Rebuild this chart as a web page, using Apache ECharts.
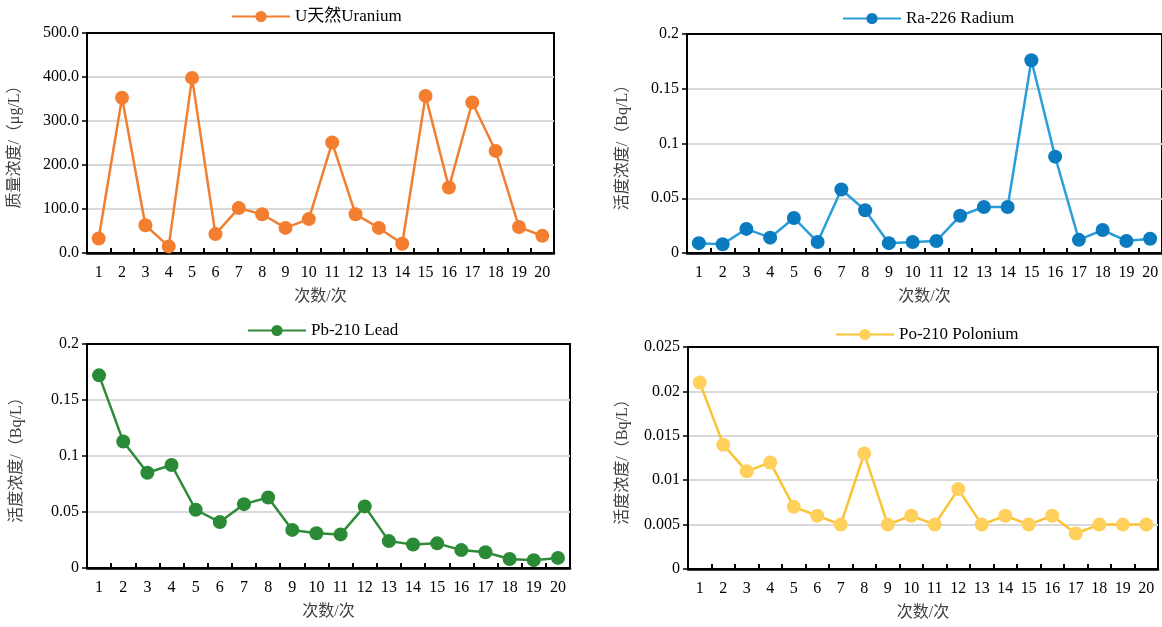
<!DOCTYPE html>
<html>
<head>
<meta charset="utf-8">
<script src="https://cdn.jsdelivr.net/npm/echarts@6/dist/echarts.min.js"></script>
<style>html,body{margin:0;padding:0;background:#fff;}#c{width:1162px;height:627px;}</style>
</head>
<body>
<div id="c"></div>
<script>
const categories = ['1','2','3','4','5','6','7','8','9','10','11','12','13','14','15','16','17','18','19','20'];
const uranium = [33, 353, 63, 15, 398, 43, 102, 88, 57, 77, 251, 88, 57, 21, 357, 149, 342, 232, 59, 39];
const radium = [0.009, 0.008, 0.022, 0.014, 0.032, 0.010, 0.058, 0.039, 0.009, 0.010, 0.011, 0.034, 0.042, 0.042, 0.176, 0.088, 0.012, 0.021, 0.011, 0.013];
const lead = [0.172, 0.113, 0.085, 0.092, 0.052, 0.041, 0.057, 0.063, 0.034, 0.031, 0.030, 0.055, 0.024, 0.021, 0.022, 0.016, 0.014, 0.008, 0.007, 0.009];
const polonium = [0.021, 0.014, 0.011, 0.012, 0.007, 0.006, 0.005, 0.013, 0.005, 0.006, 0.005, 0.009, 0.005, 0.006, 0.005, 0.006, 0.004, 0.005, 0.005, 0.005];
const seriesNames = ['U天然Uranium', 'Ra-226 Radium', 'Pb-210 Lead', 'Po-210 Polonium'];
const yNames = ['质量浓度/（μg/L）', '活度浓度/（Bq/L）', '活度浓度/（Bq/L）', '活度浓度/（Bq/L）'];
const yMax = [500, 0.2, 0.2, 0.025];
const yStep = [100, 0.05, 0.05, 0.005];
const xName = '次数/次';

const FONT = '"Liberation Serif", "Times New Roman", "Noto Sans CJK SC", serif';
const grids = [
  {left: 87, top: 33, width: 467, height: 220},
  {left: 687, top: 34, width: 480, height: 219},
  {left: 87, top: 344, width: 483, height: 224},
  {left: 688, top: 347, width: 470, height: 222}
];
const legendPos = [
  {left: 231, top: 8},
  {left: 842, top: 10},
  {left: 247, top: 322},
  {left: 835, top: 326}
];
const lineColors = ['#F07F32', '#2A9ED8', '#2E8B37', '#FBC234'];
const markColors = ['#F47E2F', '#0B7BC0', '#2A8A36', '#FFD05C'];
const yNameGap = [64, 56, 62, 57];
const dataSets = [uranium, radium, lead, polonium];

const option = {
  backgroundColor: '#fff',
  animation: false,
  textStyle: {fontFamily: FONT},
  grid: grids.map(g => Object.assign({show: true, borderColor: '#000', borderWidth: 2, backgroundColor: 'transparent', containLabel: false}, g)),
  legend: legendPos.map((p, i) => ({
    data: [seriesNames[i]],
    left: p.left, top: p.top,
    itemWidth: 58, itemHeight: 14, itemGap: 5,
    textStyle: {fontFamily: FONT, fontSize: 17, color: '#000'},
    padding: 0
  })),
  xAxis: grids.map((g, i) => ({
    type: 'category', gridIndex: i, data: categories, boundaryGap: true,
    name: xName, nameLocation: 'middle', nameGap: 36,
    nameTextStyle: {fontFamily: FONT, fontSize: 16, color: '#404040'},
    axisLine: {lineStyle: {color: '#000', width: 2.5}},
    axisTick: {show: true, inside: true, length: 5, alignWithLabel: false, lineStyle: {color: '#000', width: 2}},
    axisLabel: {fontFamily: FONT, fontSize: 16, color: '#000', margin: 12, interval: 0},
    splitLine: {show: false}
  })),
  yAxis: grids.map((g, i) => ({
    type: 'value', gridIndex: i, min: 0, max: yMax[i], interval: yStep[i],
    name: yNames[i], nameLocation: 'middle', nameGap: yNameGap[i], nameRotate: 90,
    nameTextStyle: {fontFamily: FONT, fontSize: 16, color: '#404040'},
    axisLine: {show: true, lineStyle: {color: '#000', width: 2}},
    axisTick: {show: true, inside: false, length: 5, lineStyle: {color: '#000', width: 1.5}},
    axisLabel: {fontFamily: FONT, fontSize: 16, color: '#000', margin: 8,
      formatter: i === 0 ? (v => v.toFixed(1)) : (v => String(+v.toFixed(4)))},
    splitLine: {show: true, showMaxLine: false, showMinLine: false, lineStyle: {color: '#d9d9d9', width: 2}}
  })),
  series: dataSets.map((d, i) => ({
    name: seriesNames[i], type: 'line', xAxisIndex: i, yAxisIndex: i, data: d,
    symbol: 'circle', symbolSize: 14,
    lineStyle: {color: lineColors[i], width: 2.5},
    itemStyle: {color: markColors[i]},
    z: 3
  }))
};
const chart = echarts.init(document.getElementById('c'), null, {renderer: 'canvas'});
chart.setOption(option);
</script>
</body>
</html>
